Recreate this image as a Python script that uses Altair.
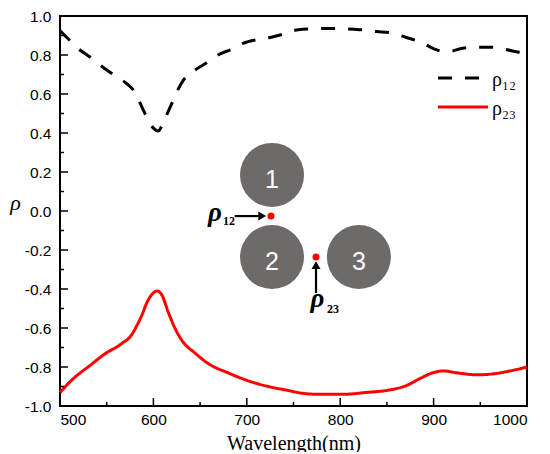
import altair as alt
import pandas as pd

# ---- data ----
series_names = ["ρ₁₂", "ρ₂₃"]
series_colors = ["black", "red"]

wl_12 = [500, 509, 521, 532, 546, 557, 570, 580, 588, 594, 600, 605, 612, 620, 625,
         632, 641, 657, 669, 684, 696, 712, 725, 741, 755, 771, 786, 807, 821, 839,
         853, 871, 889, 901, 910, 918, 931, 950, 962, 976, 990, 1000]
rho_12 = [0.925, 0.882, 0.827, 0.79, 0.737, 0.70, 0.658, 0.61, 0.53, 0.47, 0.425, 0.41,
          0.47, 0.555, 0.61, 0.67, 0.71, 0.76, 0.80, 0.83, 0.86, 0.88, 0.89, 0.91,
          0.93, 0.934, 0.936, 0.934, 0.93, 0.92, 0.915, 0.89, 0.86, 0.83, 0.82, 0.82,
          0.835, 0.84, 0.84, 0.83, 0.815, 0.81]

wl_23 = [500, 516, 530, 548, 566, 577, 582, 588, 593, 600, 604, 609, 616, 623, 630, 645,
         658, 680, 701, 723, 744, 760, 778, 803, 829, 850, 871, 885, 899, 910, 925,
         946, 964, 982, 1000]
rho_23 = [-0.93, -0.852, -0.80, -0.733, -0.68, -0.633, -0.59, -0.53, -0.47, -0.42, -0.41,
          -0.43, -0.52, -0.60, -0.66, -0.73, -0.78, -0.83, -0.87, -0.90, -0.92, -0.935,
          -0.94, -0.94, -0.93, -0.92, -0.895, -0.86, -0.83, -0.82, -0.83, -0.84,
          -0.835, -0.82, -0.80]

x_major = [500, 600, 700, 800, 900, 1000]
x_minor = [550, 650, 750, 850, 950]
y_major = [-1.0, -0.8, -0.6, -0.4, -0.2, 0.0, 0.2, 0.4, 0.6, 0.8, 1.0]
y_minor = [-0.9, -0.7, -0.5, -0.3, -0.1, 0.1, 0.3, 0.5, 0.7, 0.9]

# inset sketch (placed in data units)
circle_wl = [727, 727, 820]
circle_rho = [0.185, -0.236, -0.236]
circle_lbl = ["1", "2", "3"]
dot_wl = [725.9, 774.1]
dot_rho = [-0.026, -0.236]
arrow_h = {"wl": [687], "wl2": [714], "rho": [-0.026]}
arrow_v = {"wl": [774.1], "rho": [-0.421], "rho2": [-0.292]}
head_r = {"wl": [716.5], "rho": [-0.026]}
head_u = {"wl": [774.1], "rho": [-0.277]}
sym_wl = [666, 775.7]
sym_rho = [-0.051, -0.492]
sub_wl = [674.5, 785.9]
sub_rho = [-0.072, -0.523]
sub_txt = ["12", "23"]

W, H = 467, 390

df = pd.concat([
    pd.DataFrame({"wl": wl_12, "rho": rho_12, "series": series_names[0]}),
    pd.DataFrame({"wl": wl_23, "rho": rho_23, "series": series_names[1]}),
])

xs = alt.Scale(domain=[500, 1000], nice=False, zero=False)
ys = alt.Scale(domain=[-1, 1], nice=False, zero=False)
dashes = [[14, 13], [1, 0]]

lines = alt.Chart(df).mark_line(strokeWidth=3, interpolate="monotone").encode(
    x=alt.X("wl:Q", scale=xs, axis=alt.Axis(
        orient="bottom", values=x_major, format="d", title="Wavelength(nm)", ticks=False,
        tickSize=0, domain=False, grid=False, labelPadding=6,
        labelFont="Liberation Sans", labelFontSize=15.5, labelColor="black",
        titleFont="Liberation Serif", titleFontSize=20, titleFontWeight="normal",
        titleColor="black", titleBaseline="alphabetic", titleY=43)),
    y=alt.Y("rho:Q", scale=ys, axis=alt.Axis(
        orient="left", values=y_major, title="ρ", ticks=False, tickSize=0,
        domain=False, grid=False, labelPadding=9, format=".1f",
        labelExpr="replace(datum.label, '−', '-')",
        labelFont="Liberation Sans", labelFontSize=15.5, labelColor="black",
        titleFont="Liberation Serif", titleFontSize=22, titleFontStyle="italic",
        titleFontWeight="normal", titleColor="black", titleAngle=0,
        titleAlign="center", titleBaseline="alphabetic", titleX=-45, titleY=193)),
    color=alt.Color("series:N", scale=alt.Scale(domain=series_names, range=series_colors), legend=None),
    strokeDash=alt.StrokeDash("series:N", scale=alt.Scale(domain=series_names, range=dashes), legend=None),
)

def XN(f="wl"):
    return alt.X(f"{f}:Q", scale=xs, axis=None)

def YN(f="rho"):
    return alt.Y(f"{f}:Q", scale=ys, axis=None)

# inward ticks drawn from the tick arrays through the scales
def xticks(vals, L):
    return alt.Chart(pd.DataFrame({"wl": vals})).mark_rule(color="black", strokeWidth=1.5).encode(
        x=XN(), y=alt.value(H), y2=alt.value(H - L))

def yticks(vals, L):
    return alt.Chart(pd.DataFrame({"rho": vals})).mark_rule(color="black", strokeWidth=1.5).encode(
        y=YN(), x=alt.value(0), x2=alt.value(L))

ticks = [xticks(x_major, 8), xticks(x_minor, 4), yticks(y_major, 8), yticks(y_minor, 4)]

# legend (upper right, inside the frame)
leg_layers = []
for i, (name, col, dash, ly, lx2) in enumerate(zip(series_names, series_colors, dashes, [62, 91], [420, 428])):
    leg_layers.append(
        alt.Chart(pd.DataFrame({"series": [name]})).mark_rule(
            strokeWidth=3, color=col, strokeDash=dash).encode(
            x=alt.value(378), x2=alt.value(lx2), y=alt.value(ly)))
    leg_layers.append(
        alt.Chart(pd.DataFrame({"series": [name]})).mark_text(
            font="Liberation Serif", fontSize=20, color="black", align="left",
            baseline="alphabetic").encode(
            x=alt.value(432), y=alt.value(ly + 8), text="series:N"))

circles_df = pd.DataFrame({"wl": circle_wl, "rho": circle_rho, "lbl": circle_lbl})
circles = alt.Chart(circles_df).mark_circle(size=4100, color="#6e6a6a", opacity=1).encode(x=XN(), y=YN())
numbers = alt.Chart(circles_df).mark_text(font="Liberation Sans", fontSize=25, color="white",
                                          baseline="middle", dy=5).encode(x=XN(), y=YN(), text="lbl:N")
dots = alt.Chart(pd.DataFrame({"wl": dot_wl, "rho": dot_rho})).mark_circle(
    size=50, color="red", opacity=1).encode(x=XN(), y=YN())
arr1 = alt.Chart(pd.DataFrame(arrow_h)).mark_rule(strokeWidth=2.2, color="black").encode(
    x=XN(), x2="wl2:Q", y=YN())
arr2 = alt.Chart(pd.DataFrame(arrow_v)).mark_rule(strokeWidth=2.2, color="black").encode(
    x=XN(), y=YN(), y2="rho2:Q")
hd1 = alt.Chart(pd.DataFrame(head_r)).mark_point(shape="triangle-right", filled=True, size=80,
                                                 color="black", opacity=1).encode(x=XN(), y=YN())
hd2 = alt.Chart(pd.DataFrame(head_u)).mark_point(shape="triangle-up", filled=True, size=80,
                                                 color="black", opacity=1).encode(x=XN(), y=YN())
syms = alt.Chart(pd.DataFrame({"wl": sym_wl, "rho": sym_rho, "t": ["ρ", "ρ"]})).mark_text(
    font="Liberation Serif", fontSize=27, fontStyle="italic", fontWeight="bold",
    color="black", align="center", baseline="alphabetic").encode(x=XN(), y=YN(), text="t:N")
subs = alt.Chart(pd.DataFrame({"wl": sub_wl, "rho": sub_rho, "t": sub_txt})).mark_text(
    font="Liberation Serif", fontSize=12, fontWeight="bold", color="black",
    align="left", baseline="alphabetic").encode(x=XN(), y=YN(), text="t:N")

chart = alt.layer(lines, *ticks, *leg_layers, circles, numbers, dots, arr1, arr2, hd1, hd2,
                  syms, subs).resolve_axis(
    x="independent", y="independent"
).properties(
    width=W, height=H,
    autosize=alt.AutoSizeParams(type="none"),
    padding={"left": 52, "top": 8, "right": 15, "bottom": 46},
    background="white",
).configure_view(stroke="black", strokeWidth=2)

chart.save("out.html", embed_options={"renderer": "svg", "actions": False})
